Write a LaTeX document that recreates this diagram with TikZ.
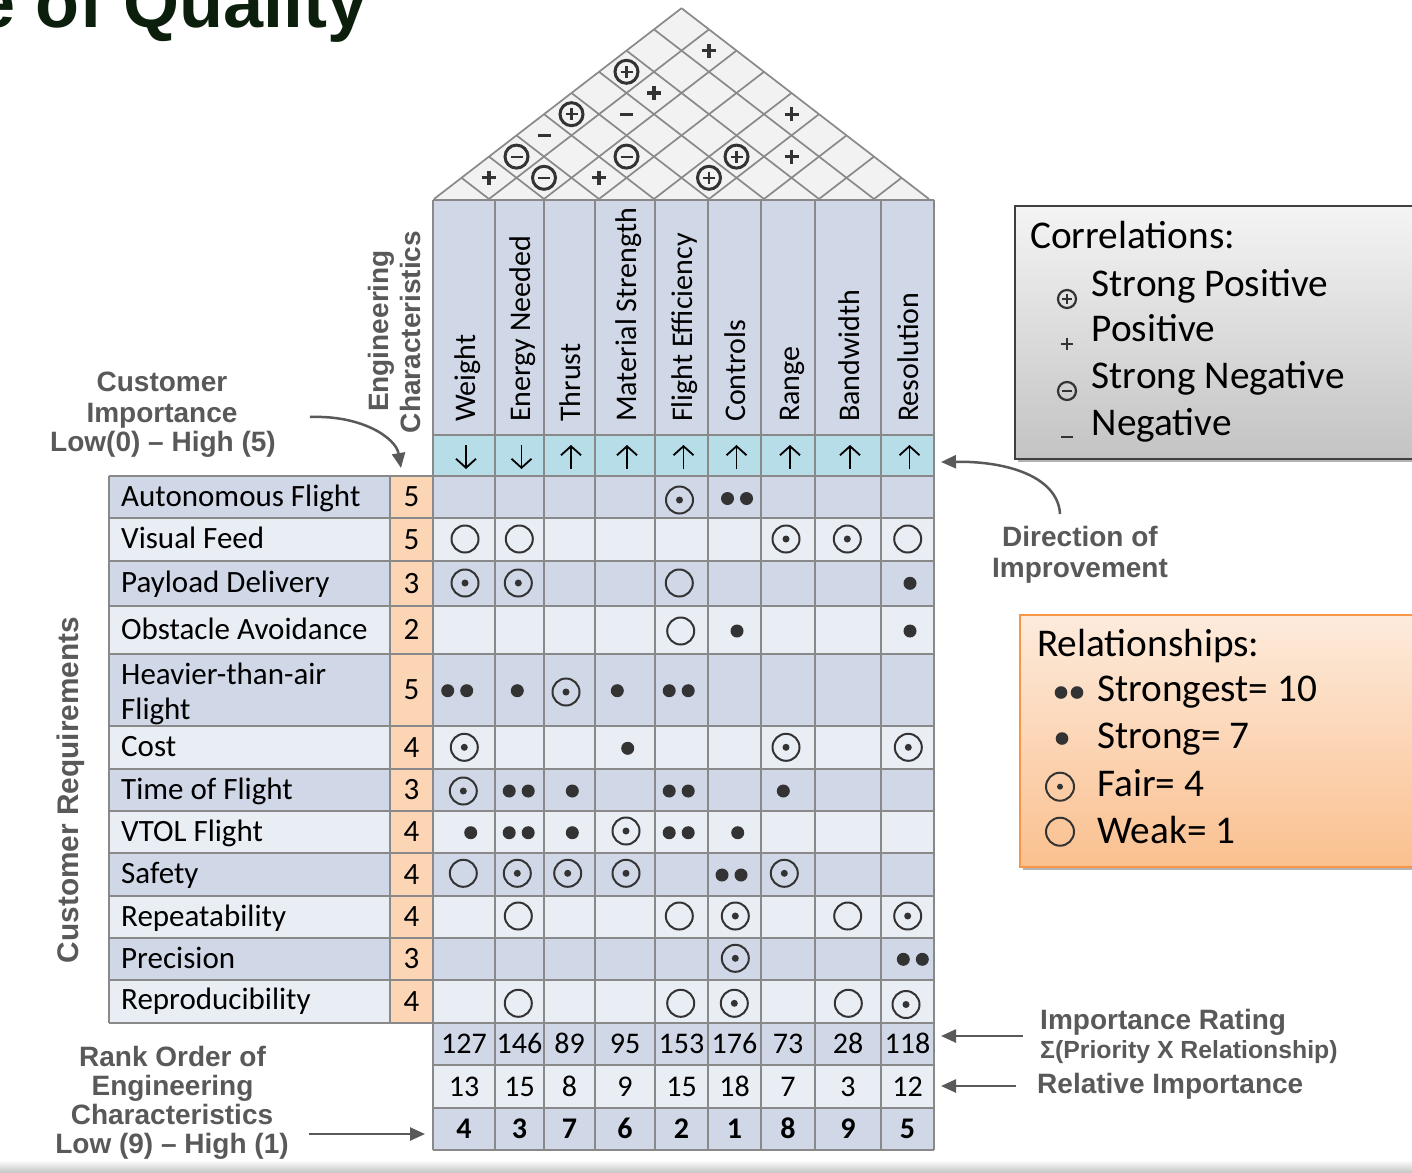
\documentclass[tikz,border=0pt]{standalone}
\usepackage{fontspec}
\setmainfont{Carlito}
\newfontfamily\arialfam{Liberation Sans}
\usetikzlibrary{arrows.meta,shadows}
\definecolor{rowdark}{HTML}{D0D7E7}
\definecolor{rowlight}{HTML}{E9EDF4}
\definecolor{peachc}{HTML}{FCD5B5}
\definecolor{dirc}{HTML}{B7DDE8}
\definecolor{gridc}{HTML}{898989}
\definecolor{symc}{HTML}{333333}
\definecolor{annc}{HTML}{595959}
\definecolor{roofc}{HTML}{F2F2F2}
\definecolor{titlec}{HTML}{0C1F0C}
\definecolor{corrtop}{HTML}{F4F4F4}
\definecolor{corrbot}{HTML}{C3C3C3}
\definecolor{reltop}{HTML}{FDEBDC}
\definecolor{relbot}{HTML}{FAC08F}
\definecolor{relborder}{HTML}{F79646}
\definecolor{corrborder}{HTML}{404040}

\newcommand\mytbl{\fontsize{30}{36}\selectfont}
\newcommand\myrow{\fontsize{31}{36}\selectfont}
\newcommand\myleg{\fontsize{39.3}{46}\selectfont}
\newcommand\myann{\arialfam\bfseries\fontsize{28}{30}\selectfont}

% relationship symbols
\newcommand\rWeak[2]{\draw[symc,line width=2pt] (#1,#2) circle[radius=13.5pt];}
\newcommand\rFair[2]{\draw[symc,line width=2pt] (#1,#2) circle[radius=13.5pt]; \fill[symc] (#1,#2) circle[radius=3.5pt];}
\newcommand\rStrong[2]{\fill[symc] (#1,#2) circle[radius=6.5pt];}
\newcommand\rStrongest[2]{\fill[symc] (#1-9.5,#2) circle[radius=6.5pt] (#1+9.5,#2) circle[radius=6.5pt];}
% correlation symbols (roof)
\newcommand\cSP[2]{\draw[symc,line width=3pt] (#1,#2) circle[radius=11.5pt]; \draw[symc,line width=2.2pt] (#1-6,#2) -- (#1+6,#2) (#1,#2-6) -- (#1,#2+6);}
\newcommand\cSN[2]{\draw[symc,line width=3pt] (#1,#2) circle[radius=11.5pt]; \draw[symc,line width=2.2pt] (#1-6,#2) -- (#1+6,#2);}
\newcommand\cP[2]{\draw[symc,line width=3.2pt] (#1-7,#2) -- (#1+7,#2) (#1,#2-7) -- (#1,#2+7);}
\newcommand\cN[2]{\draw[symc,line width=3pt] (#1-6.5,#2) -- (#1+6.5,#2);}
\newcommand\corrAt[3]{\pgfmathsetmacro\cxx{434+27.5*(#1+#2-1)}\pgfmathsetmacro\cyy{199-21.2*(#2-#1)}#3{\cxx}{\cyy}}

\begin{document}
\begin{tikzpicture}[x=1pt,y=-1pt,
  gridl/.style={draw=gridc, line width=2pt},
  roofl/.style={draw=gridc, line width=1.7pt},
  tbl/.style={font=\myrow, inner sep=0pt, text=black},
  hdr/.style={font=\mytbl, inner sep=0pt, text=black, rotate=90, anchor=base west},
  numb/.style={font=\mytbl, inner sep=0pt, text=black, anchor=base},
  leg/.style={font=\myleg, inner sep=0pt, text=black, anchor=base west},
  ann/.style={font=\myann, inner sep=0pt, text=annc},
  annarrow/.style={draw=annc, line width=2.5pt, -{Triangle[length=15pt,width=13pt]}},
  dirarr/.style={draw=black, line width=1.8pt, -{Straight Barb[length=9pt,width=20pt]}}]
\useasboundingbox (0,0) rectangle (1412,1172);
\fill[white] (0,0) rectangle (1412,1172);

% title
\node[anchor=base east, inner sep=0pt, font=\arialfam\bfseries\fontsize{72}{80}\selectfont, text=titlec] (title) at (368,28) {e of Quality};

% roof
\fill[roofc] (434,199) -- (681.5,8.2) -- (929,199) -- cycle;
\foreach \k in {1,...,8} {
  \draw[roofl] (434+55*\k,199) -- (434+27.5*\k,199-21.2*\k);
  \draw[roofl] (434+55*\k,199) -- (434+55*\k+27.5*9-27.5*\k,199-21.2*9+21.2*\k);
}
\draw[roofl, line join=round] (434,199) -- (681.5,8.2) -- (929,199);
\corrAt{1}{2}{\cP} \corrAt{1}{3}{\cSN} \corrAt{2}{3}{\cSN} \corrAt{1}{4}{\cN}
\corrAt{1}{5}{\cSP} \corrAt{3}{4}{\cP} \corrAt{3}{5}{\cSN} \corrAt{2}{6}{\cN}
\corrAt{2}{7}{\cP} \corrAt{1}{7}{\cSP} \corrAt{2}{9}{\cP} \corrAt{5}{6}{\cSP}
\corrAt{5}{7}{\cSP} \corrAt{6}{8}{\cP} \corrAt{5}{9}{\cP}

% header
\fill[rowdark] (433,200) rectangle (934,435);
\fill[dirc] (433,435) rectangle (934,476);
\foreach \cx/\lab [count=\n] in {464/Weight, 519.5/Energy Needed, 569.5/Thrust, 625/Material Strength, 681.5/Flight Efficiency, 734.5/Controls, 788/Range, 848/Bandwidth, 907.5/Resolution}
  \node[hdr] (h\n) at (\cx+11,422) {\lab};
\foreach \cx in {466,521.5} \draw[dirarr] (\cx,445) -- (\cx,469);
\foreach \cx in {571,627,683.5,736.5,790,850,909.5} \draw[dirarr] (\cx,469) -- (\cx,445);

% rows
\fill[rowdark] (109,476) rectangle (934,518);
\fill[rowlight] (109,518) rectangle (934,561);
\fill[rowdark] (109,561) rectangle (934,606);
\fill[rowlight] (109,606) rectangle (934,654);
\fill[rowdark] (109,654) rectangle (934,726);
\fill[rowlight] (109,726) rectangle (934,769);
\fill[rowdark] (109,769) rectangle (934,811);
\fill[rowlight] (109,811) rectangle (934,853);
\fill[rowdark] (109,853) rectangle (934,896);
\fill[rowlight] (109,896) rectangle (934,938);
\fill[rowdark] (109,938) rectangle (934,980);
\fill[rowlight] (109,980) rectangle (934,1023);
\fill[peachc] (390,476) rectangle (433,1023);
\fill[rowdark] (433,1023) rectangle (934,1065);
\fill[rowlight] (433,1065) rectangle (934,1108);
\fill[rowdark] (433,1108) rectangle (934,1150);

% grid
\foreach \x in {433,495,544,595,655,708,761,815,881,934} \draw[gridl] (\x,200) -- (\x,1150);
\foreach \y in {200,435} \draw[gridl] (433,\y) -- (934,\y);
\foreach \y in {476,518,561,606,654,726,769,811,853,896,938,980,1023} \draw[gridl] (109,\y) -- (934,\y);
\foreach \y in {1065,1108,1150} \draw[gridl] (433,\y) -- (934,\y);
\draw[gridl] (109,476) -- (109,1023);
\draw[gridl] (390,476) -- (390,1023);

% requirement labels
\node[tbl, anchor=base west] (rq1) at (121,506) {Autonomous Flight};
\node[tbl, anchor=base west] (rq2) at (121,548.5) {Visual Feed};
\node[tbl, anchor=base west] (rq3) at (121,592.5) {Payload Delivery};
\node[tbl, anchor=base west] (rq4) at (121,639) {Obstacle Avoidance};
\node[tbl, anchor=base west] (rq5a) at (121,684) {Heavier-than-air};
\node[tbl, anchor=base west] (rq5b) at (121,719) {Flight};
\node[tbl, anchor=base west] (rq6) at (121,756.5) {Cost};
\node[tbl, anchor=base west] (rq7) at (121,799) {Time of Flight};
\node[tbl, anchor=base west] (rq8) at (121,841) {VTOL Flight};
\node[tbl, anchor=base west] (rq9) at (121,883.5) {Safety};
\node[tbl, anchor=base west] (rq10) at (121,926) {Repeatability};
\node[tbl, anchor=base west] (rq11) at (121,968) {Precision};
\node[tbl, anchor=base west] (rq12) at (121,1009.5) {Reproducibility};

% importance
\foreach \yy/\v [count=\n] in {506.5/5, 549/5, 593/3, 639.5/2, 699.5/5, 757/4, 799.5/3, 841.5/4, 884/4, 926.5/4, 968.5/3, 1011/4}
  \node[numb, font=\myrow] (im\n) at (411.5,\yy) {\v};

% relationships
\rFair{679.5}{500} \rStrongest{737}{498.5}
\rWeak{465}{539} \rWeak{519.3}{539} \rFair{786}{539} \rFair{847.3}{539} \rWeak{907.7}{539}
\rFair{465}{583} \rFair{518.3}{583} \rWeak{679.3}{583} \rStrong{910}{583.3}
\rWeak{680.7}{631} \rStrong{737}{631} \rStrong{910}{631}
\rStrongest{457.2}{690.7} \rStrong{517.3}{690.7} \rFair{566}{692} \rStrong{617.3}{690.7} \rStrongest{678.7}{690.7}
\rFair{464.3}{747.3} \rStrong{627.7}{748.3} \rFair{786}{747.3} \rFair{908.3}{747.3}
\rFair{463.3}{791} \rStrongest{518.7}{791} \rStrong{572.3}{791} \rStrongest{678.7}{791} \rStrong{783.3}{791}
\rStrong{470.7}{832.7} \rStrongest{518.7}{832.7} \rStrong{572.3}{832.7} \rFair{626}{831} \rStrongest{678.7}{832.7} \rStrong{737.7}{832.7}
\rWeak{463.3}{873.3} \rFair{517.3}{873.3} \rFair{567.7}{873.3} \rFair{626}{873.3} \rStrongest{731.5}{875} \rFair{784.3}{873.3}
\rWeak{518.3}{916} \rWeak{679.3}{916} \rFair{735.3}{916} \rWeak{847.7}{916} \rFair{907.7}{916}
\rFair{735.3}{958.3} \rStrongest{912.8}{959.3}
\rWeak{518.3}{1003.3} \rWeak{680.7}{1003.3} \rFair{734.3}{1003.3} \rWeak{848.3}{1003.3} \rFair{906}{1004.5}

% bottom numbers
\foreach \cx/\a/\b/\c [count=\n] in {464/127/13/4, 519.5/146/15/3, 569.5/89/8/7, 625/95/9/6, 681.5/153/15/2, 734.5/176/18/1, 788/73/7/8, 848/28/3/9, 907.5/118/12/5} {
  \node[numb] (ir\n) at (\cx,1053.5) {\a};
  \node[numb] (ri\n) at (\cx,1096) {\b};
  \node[numb, font=\mytbl\bfseries] (rk\n) at (\cx,1138.5) {\c};
}

% correlations legend
\draw[corrborder, line width=1.5pt, top color=corrtop, bottom color=corrbot,
  drop shadow={shadow xshift=3pt, shadow yshift=-3pt, opacity=0.3, fill=black}] (1015,206) rectangle (1440,459);
\node[leg] (corrT) at (1030,248) {Correlations:};
\node[leg] (corrSPt) at (1091.5,296) {Strong Positive};
\node[leg] (corrPt) at (1091.5,341.7) {Positive};
\node[leg] (corrSNt) at (1091.5,388.3) {Strong Negative};
\node[leg] (corrNt) at (1091.5,435) {Negative};
\draw[symc, line width=2.2pt] (1067,299) circle[radius=9pt];
\draw[symc, line width=1.8pt] (1062,299) -- (1072,299) (1067,294) -- (1067,304);
\draw[symc, line width=2.2pt] (1061,344) -- (1073,344) (1067,338) -- (1067,350);
\draw[symc, line width=2.2pt] (1067,391) circle[radius=9pt];
\draw[symc, line width=1.8pt] (1062,391) -- (1072,391);
\draw[symc, line width=2.2pt] (1061,437) -- (1073,437);

% relationships legend
\draw[relborder, line width=1.5pt, top color=reltop, bottom color=relbot,
  drop shadow={shadow xshift=3pt, shadow yshift=-3pt, opacity=0.3, fill=black}] (1020,615) rectangle (1440,867);
\node[leg] (relT) at (1037,656.7) {Relationships:};
\node[leg] (rel10) at (1097,701.7) {Strongest= 10};
\node[leg] (rel7) at (1097,748.3) {Strong= 7};
\node[leg] (rel4) at (1097,796.7) {Fair= 4};
\node[leg] (rel1) at (1097,843.3) {Weak= 1};
\fill[symc] (1061,692.5) circle[radius=6.3pt] (1077,692.5) circle[radius=6.3pt];
\fill[symc] (1062,738.5) circle[radius=6.3pt];
\draw[symc, line width=2pt] (1060,786.7) circle[radius=14pt];
\fill[symc] (1060,786.7) circle[radius=3pt];
\draw[symc, line width=2pt] (1060,831.7) circle[radius=14pt];

% annotations
\node[ann, anchor=base] (ci1) at (162,391.7) {Customer};
\node[ann, anchor=base] (ci2) at (162,422.7) {Importance};
\node[ann, anchor=base] (ci3) at (163,451.7) {Low(0) – High (5)};
\coordinate (ciA) at (310,417);
\coordinate (ciB) at (401,468);
\draw[annarrow] (ciA) .. controls (362,415) and (396,438) .. (ciB);

\node[ann, anchor=base, rotate=90] (ec1) at (388,331) {Engineering};
\node[ann, anchor=base, rotate=90] (ec2) at (420,332) {Characteristics};

\node[ann, anchor=base, rotate=90, font=\arialfam\bfseries\fontsize{29.8}{32}\selectfont] (custreq) at (78,790) {Customer Requirements};

\node[ann, anchor=base] (di1) at (1080,546) {Direction of};
\node[ann, anchor=base] (di2) at (1080,577) {Improvement};
\coordinate (diA) at (1060,514);
\coordinate (diB) at (941,462);
\draw[annarrow] (diA) .. controls (1058,478) and (1010,461) .. (diB);

\node[ann, anchor=base west] (irt1) at (1040,1029.5) {Importance Rating};
\node[ann, anchor=base west, font=\arialfam\bfseries\fontsize{24.8}{26}\selectfont] (irt2) at (1040,1058.3) {Σ(Priority X Relationship)};
\node[ann, anchor=base west] (rit) at (1037,1093.5) {Relative Importance};
\coordinate (irA) at (1023,1036);
\coordinate (irB) at (941,1036);
\draw[annarrow] (irA) -- (irB);
\coordinate (riA) at (1016,1086);
\coordinate (riB) at (941,1086);
\draw[annarrow] (riA) -- (riB);

\node[ann, anchor=base] (ro1) at (172.5,1066) {Rank Order of};
\node[ann, anchor=base] (ro2) at (172.5,1095) {Engineering};
\node[ann, anchor=base] (ro3) at (172,1124) {Characteristics};
\node[ann, anchor=base] (ro4) at (172,1153) {Low (9) – High (1)};
\coordinate (roA) at (309,1134);
\coordinate (roB) at (425,1134);
\draw[annarrow] (roA) -- (roB);

% bottom band
\shade[top color=white, bottom color=black!22] (0,1160) rectangle (1412,1172);
\end{tikzpicture}
\end{document}
